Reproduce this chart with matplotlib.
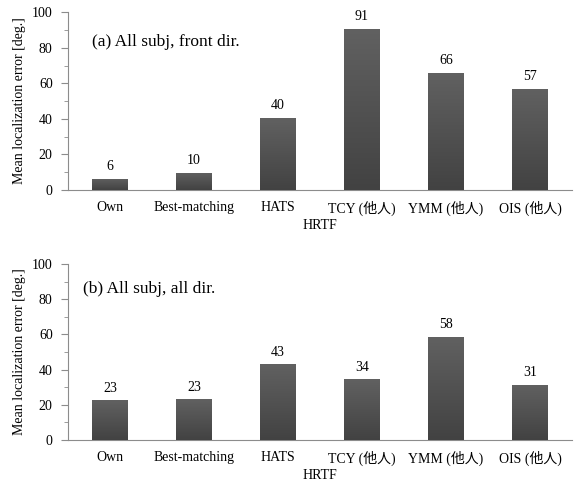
import numpy as np
import matplotlib

matplotlib.use("Agg")
import matplotlib.pyplot as plt

plt.rcParams["font.family"] = ["Liberation Serif", "Noto Sans CJK JP"]

categories = ["Own", "Best-matching", "HATS", "TCY (他人)", "YMM (他人)", "OIS (他人)"]
front_err = [6.4, 9.8, 40.5, 90.6, 66.0, 57.0]
front_lbl = [6, 10, 40, 91, 66, 57]
all_err = [22.6, 23.1, 43.0, 34.4, 58.6, 31.4]
all_lbl = [23, 23, 43, 34, 58, 31]
panel_titles = ["(a) All subj, front dir.", "(b) All subj, all dir."]

grad = np.linspace(0, 1, 256).reshape(-1, 1)
bar_cmap = matplotlib.colors.LinearSegmentedColormap.from_list("g", ["#424242", "#616161"])


def draw_panel(ax, values, labels, title, title_x, title_y):
    x = np.arange(len(categories))
    bars = ax.bar(x, values, width=0.42, color="#525252", zorder=2)
    for b in bars:
        img = ax.imshow(grad, cmap=bar_cmap, origin="lower", aspect="auto",
                        extent=[b.get_x(), b.get_x() + b.get_width(), 0, b.get_height()],
                        zorder=3)
        img.set_clip_path(b)
    for xi, v, lab in zip(x, values, labels):
        ax.annotate(str(lab), (xi, v), xytext=(0, 4), textcoords="offset points",
                    ha="center", va="bottom", fontsize=10)
    ax.set_xlim(-0.5, len(categories) - 0.5)
    ax.set_ylim(0, 100)
    ax.set_yticks(range(0, 101, 20))
    ax.set_yticks(range(10, 100, 20), minor=True)
    ax.set_xticks(x)
    ax.set_xticklabels(categories, fontsize=10)
    ax.tick_params(axis="x", length=0, pad=8)
    ax.tick_params(axis="y", which="major", length=5, color="#8c8c8c", labelsize=10, pad=6)
    ax.tick_params(axis="y", which="minor", length=3, color="#8c8c8c")
    for s in ["top", "right"]:
        ax.spines[s].set_visible(False)
    for s in ["left", "bottom"]:
        ax.spines[s].set_color("#8c8c8c")
    ax.set_ylabel("Mean localization error [deg.]", fontsize=10, labelpad=4)
    ax.set_xlabel("HRTF", fontsize=10, labelpad=2)
    ax.text(title_x, title_y, title, fontsize=12.5, va="center", ha="left")


fig = plt.figure(figsize=(5.76, 4.87), dpi=100)
ax1 = fig.add_axes([0.118, 0.610, 0.875, 0.365])
ax2 = fig.add_axes([0.118, 0.0965, 0.875, 0.3615])
draw_panel(ax1, front_err, front_lbl, panel_titles[0], -0.21, 83)
draw_panel(ax2, all_err, all_lbl, panel_titles[1], -0.32, 86)
fig.savefig("out.png", dpi=100)
